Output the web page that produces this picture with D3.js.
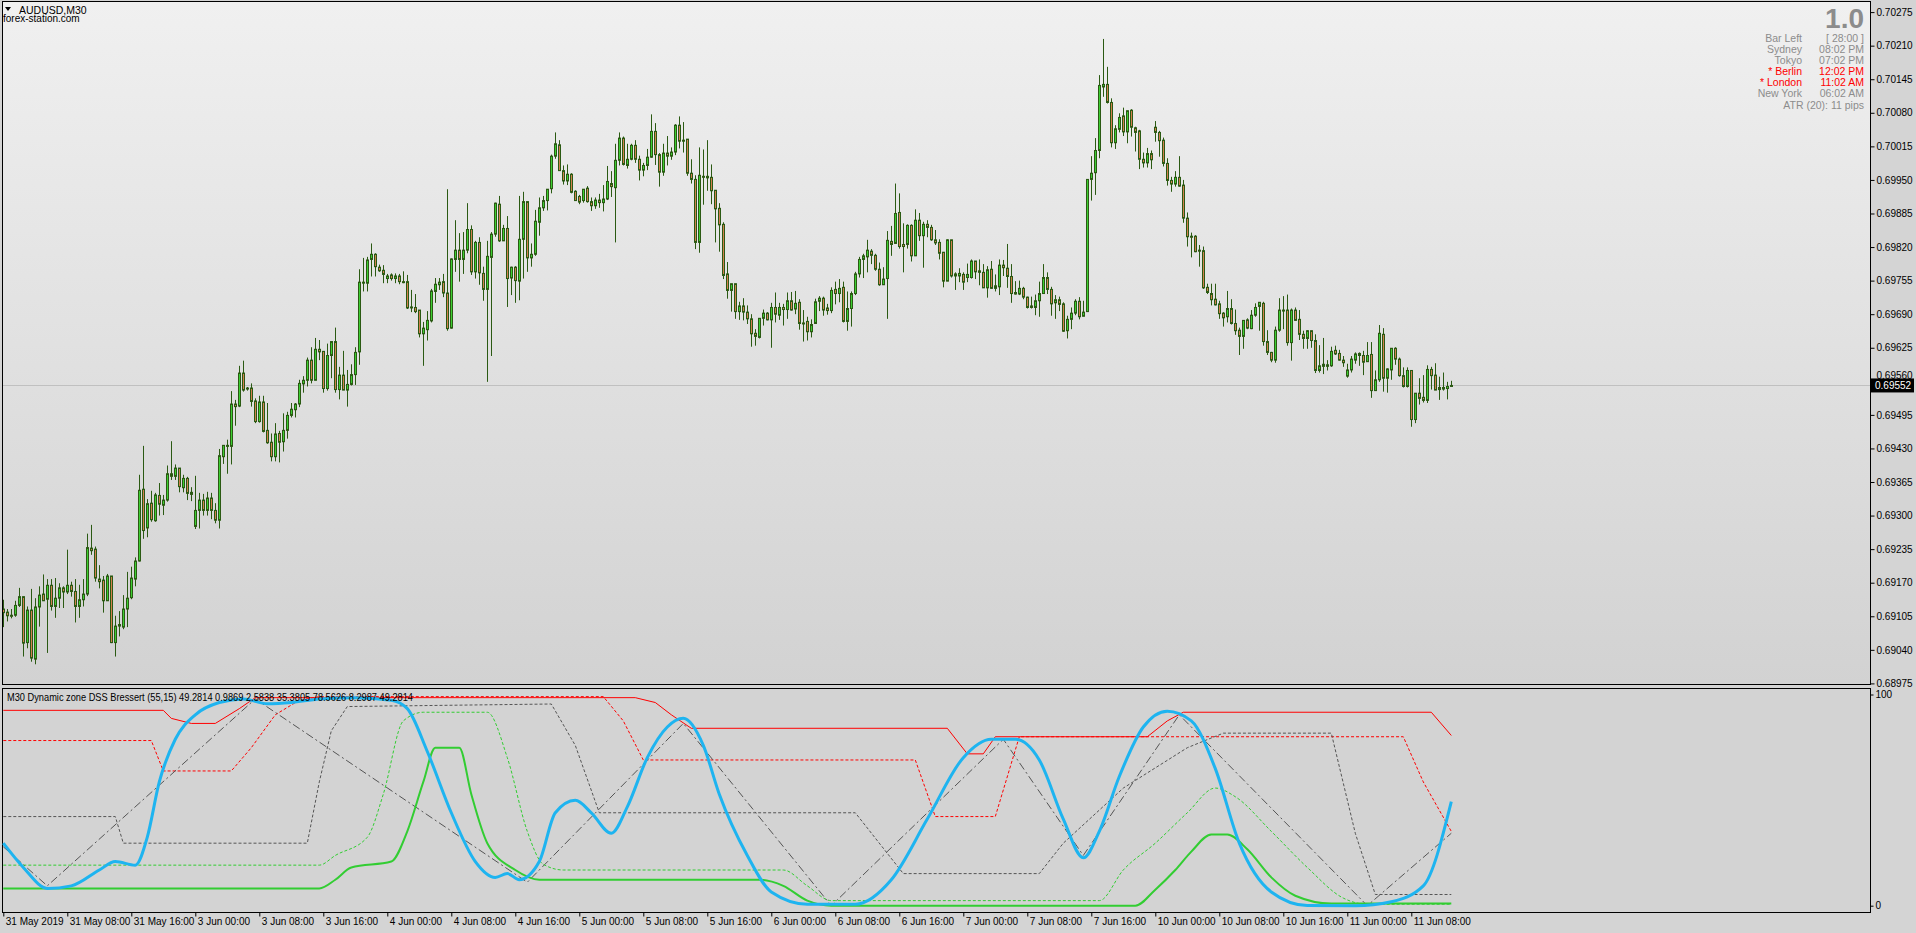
<!DOCTYPE html>
<html><head><meta charset="utf-8">
<script src="https://cdn.jsdelivr.net/npm/d3@7"></script>
<style>
html,body{margin:0;padding:0;background:#d4d4d4;overflow:hidden}
svg{display:block}
text{font-family:"Liberation Sans",Arial,sans-serif}
</style></head><body>
<svg id="c" width="1916" height="933"></svg>
<script>
// ---- price data, in points (price x 100000), M30 bars from 31 May 2019 00:00 ----
const opens = [69119,69113,69107,69107,69126,69143,69054,69117,69022,69123,
69148,69138,69165,69124,69140,69160,69152,69165,69153,69124,
69137,69148,69237,69235,69177,69175,69135,69183,69054,69086,
69084,69119,69141,69177,69212,69351,69276,69324,69290,69339,
69320,69330,69381,69376,69392,69354,69372,69345,69279,69310,
69330,69310,69334,69310,69291,69414,69434,69434,69516,69512,
69576,69547,69547,69522,69482,69520,69465,69442,69414,69459,
69443,69465,69494,69505,69516,69555,69562,69601,69562,69622,
69618,69546,69610,69637,69544,69572,69543,69554,69573,69617,
69751,69750,69796,69806,69781,69775,69759,69766,69759,69764,
69753,69753,69704,69703,69698,69652,69660,69677,69734,69747,
69753,69731,69663,69796,69814,69796,69814,69854,69772,69829,
69769,69738,69800,69845,69903,69832,69856,69760,69781,69754,
69835,69908,69799,69806,69868,69896,69910,69933,69996,70018,
69968,69948,69961,69928,69918,69910,69934,69908,69900,69911,
69906,69913,69943,69935,69988,70031,69978,69990,70017,69990,
69969,69978,69994,70044,69999,69965,70002,69996,70004,70056,
70025,70029,69963,69951,69829,69957,69957,69955,69930,69895,
69864,69768,69736,69749,69695,69706,69694,69681,69653,69645,
69682,69692,69679,69703,69688,69703,69699,69716,69700,69713,
69673,69676,69656,69672,69715,69721,69702,69697,69738,69730,
69742,69676,69701,69730,69768,69796,69801,69812,69804,69777,
69747,69759,69831,69827,69887,69825,69825,69862,69803,69872,
69842,69864,69858,69834,69829,69810,69754,69834,69764,69764,
69767,69761,69761,69793,69774,69771,69741,69777,69740,69743,
69785,69779,69763,69732,69729,69740,69723,69706,69703,69716,
69730,69761,69738,69712,69718,69710,69658,69680,69692,69715,
69686,69695,69951,69964,70007,70130,70135,70100,70022,70048,
70074,70043,70085,70051,70045,69990,69983,70001,70052,70042,
70027,69982,69949,69942,69955,69940,69876,69841,69841,69814,
69813,69742,69730,69719,69710,69692,69685,69701,69672,69659,
69647,69679,69662,69688,69705,69711,69637,69616,69601,69659,
69697,69698,69635,69698,69680,69651,69643,69658,69639,69581,
69589,69589,69590,69620,69614,69601,69570,69582,69601,69614,
69610,69598,69612,69542,69563,69651,69566,69582,69624,69603,
69571,69550,69581,69486,69537,69529,69523,69583,69572,69544,
69545,69546,69550];
const highs = [69137,69119,69119,69135,69160,69143,69124,69158,69140,69163,
69186,69177,69177,69179,69169,69163,69234,69172,69177,69166,
69177,69265,69282,69240,69204,69183,69187,69183,69106,69115,
69146,69191,69201,69219,69379,69435,69332,69348,69344,69363,
69340,69397,69444,69399,69392,69379,69375,69355,69377,69344,
69342,69346,69344,69324,69429,69436,69447,69541,69524,69590,
69600,69549,69556,69527,69532,69532,69518,69459,69479,69464,
69498,69501,69518,69518,69563,69570,69606,69626,69644,69640,
69618,69633,69637,69664,69588,69619,69582,69593,69626,69777,
69799,69801,69827,69808,69786,69785,69768,69769,69769,69768,
69773,69766,69737,69729,69698,69675,69696,69739,69760,69760,
69768,69932,69798,69872,69847,69849,69905,69862,69832,69839,
69782,69832,69849,69906,69919,69863,69880,69782,69783,69919,
69927,69908,69827,69892,69916,69919,69932,69999,70042,70027,
69978,69980,69963,69930,69921,69932,69938,69916,69916,69923,
69940,69977,69967,70020,70042,70034,70020,70020,70027,69997,
69983,70010,70077,70060,70002,70020,70035,70013,70058,70073,
70062,70029,69990,69959,70013,70009,70027,69980,69930,69905,
69868,69791,69749,69749,69714,69721,69707,69690,69661,69682,
69699,69694,69712,69732,69712,69710,69732,69733,69735,69719,
69698,69685,69680,69720,69725,69724,69710,69742,69753,69758,
69753,69734,69734,69772,69801,69807,69834,69816,69807,69790,
69781,69851,69861,69943,69924,69866,69864,69864,69893,69886,
69869,69872,69863,69853,69835,69810,69835,69834,69771,69779,
69771,69788,69796,69793,69796,69787,69783,69793,69767,69796,
69795,69826,69787,69754,69755,69743,69724,69724,69728,69753,
69787,69771,69743,69727,69724,69713,69687,69703,69719,69723,
69716,69951,69996,70031,70153,70223,70169,70108,70056,70079,
70090,70084,70087,70053,70047,70003,70012,70007,70064,70045,
70032,69992,69956,69967,69996,69950,69887,69848,69843,69824,
69821,69749,69749,69749,69716,69694,69735,69719,69699,69664,
69678,69682,69698,69711,69713,69714,69659,69617,69666,69721,
69725,69728,69701,69703,69698,69658,69659,69658,69651,69630,
69644,69601,69627,69629,69621,69609,69594,69609,69616,69616,
69619,69636,69636,69581,69669,69663,69585,69624,69626,69606,
69587,69587,69581,69537,69566,69572,69591,69588,69595,69569,
69577,69559,69561];
const lows = [69084,69095,69101,69104,69123,69027,69043,69017,69012,69085,
69135,69034,69116,69102,69121,69121,69148,69143,69093,69102,
69124,69144,69224,69172,69159,69112,69135,69053,69027,69066,
69080,69084,69138,69163,69211,69255,69258,69288,69288,69300,
69301,69327,69369,69369,69345,69345,69330,69328,69274,69275,
69300,69300,69293,69285,69275,69400,69381,69399,69474,69510,
69540,69542,69511,69479,69480,69461,69439,69405,69405,69403,
69424,69449,69490,69490,69510,69538,69550,69556,69562,69601,
69538,69542,69566,69538,69525,69543,69511,69552,69553,69592,
69734,69734,69763,69763,69772,69750,69750,69755,69750,69748,
69750,69700,69694,69692,69645,69590,69639,69674,69712,69737,
69723,69658,69662,69772,69753,69768,69808,69766,69759,69747,
69716,69559,69609,69840,69830,69832,69704,69727,69712,69717,
69759,69772,69782,69803,69842,69890,69891,69924,69991,69968,
69941,69940,69924,69910,69903,69906,69906,69890,69894,69896,
69889,69911,69917,69829,69978,69978,69972,69988,69983,69949,
69957,69969,69993,69979,69937,69958,69978,69989,69998,70011,
70003,69958,69943,69816,69809,69902,69929,69903,69829,69811,
69758,69720,69695,69681,69679,69678,69671,69627,69629,69643,
69668,69678,69625,69674,69679,69668,69681,69697,69690,69660,
69637,69639,69645,69672,69696,69687,69689,69692,69709,69713,
69674,69658,69666,69727,69761,69760,69771,69787,69774,69745,
69747,69681,69803,69827,69817,69771,69817,69792,69803,69832,
69780,69839,69832,69824,69796,69742,69754,69761,69737,69752,
69737,69752,69759,69758,69746,69741,69722,69739,69734,69727,
69764,69741,69712,69728,69727,69719,69701,69701,69688,69685,
69730,69729,69687,69681,69696,69656,69643,69661,69688,69680,
69686,69695,69910,69921,69992,70111,70098,70013,70010,70042,
70035,70021,70034,70005,69971,69974,69974,69971,70024,69995,
69976,69939,69927,69937,69937,69867,69821,69800,69810,69782,
69739,69729,69707,69707,69681,69666,69674,69670,69650,69611,
69623,69661,69661,69685,69658,69629,69611,69597,69596,69656,
69661,69629,69600,69677,69640,69623,69623,69625,69576,69577,
69574,69581,69588,69611,69600,69588,69567,69577,69594,69590,
69572,69598,69528,69542,69559,69540,69538,69563,69592,69569,
69548,69548,69472,69479,69515,69519,69518,69544,69543,69524,
69542,69525,69550];
const closes = [69112,69106,69105,69126,69143,69053,69117,69024,69123,69146,
69135,69165,69124,69140,69160,69152,69165,69153,69124,69137,
69148,69238,69232,69179,69172,69135,69183,69054,69086,69089,
69119,69140,69179,69212,69349,69271,69323,69292,69340,69322,
69330,69381,69376,69392,69356,69372,69343,69341,69310,69330,
69310,69334,69310,69291,69416,69436,69436,69516,69511,69576,
69543,69545,69521,69482,69520,69463,69441,69414,69458,69442,
69465,69494,69506,69516,69556,69562,69601,69562,69622,69617,
69546,69610,69637,69544,69572,69543,69554,69573,69616,69752,
69752,69795,69806,69782,69774,69767,69764,69759,69764,69753,
69752,69702,69703,69695,69652,69663,69678,69735,69748,69752,
69731,69662,69797,69814,69796,69814,69854,69772,69829,69770,
69738,69802,69845,69905,69832,69856,69759,69781,69755,69835,
69908,69799,69806,69870,69896,69910,69932,69996,70020,69968,
69948,69961,69926,69910,69907,69932,69908,69900,69911,69906,
69913,69947,69937,69988,70031,69980,69990,70017,69990,69969,
69978,69994,70044,69999,69965,70002,69996,70004,70056,70025,
70027,69963,69951,69829,69959,69956,69954,69929,69894,69863,
69765,69736,69749,69695,69706,69694,69681,69652,69647,69682,
69692,69679,69703,69690,69703,69699,69716,69698,69711,69672,
69672,69656,69670,69714,69721,69698,69697,69736,69730,69740,
69676,69701,69730,69768,69796,69803,69814,69804,69777,69747,
69758,69833,69825,69885,69821,69821,69862,69803,69872,69842,
69864,69858,69834,69828,69808,69754,69834,69764,69768,69769,
69752,69767,69793,69772,69771,69741,69776,69740,69745,69785,
69780,69763,69730,69729,69740,69723,69703,69703,69716,69730,
69761,69738,69710,69718,69709,69657,69680,69692,69715,69685,
69694,69951,69963,70007,70133,70135,70100,70022,70049,70071,
70043,70084,70052,70042,69990,69983,70001,69989,70042,70026,
69982,69949,69942,69955,69938,69876,69840,69839,69811,69812,
69741,69732,69718,69708,69691,69683,69701,69672,69658,69647,
69678,69663,69688,69703,69713,69637,69616,69601,69659,69698,
69698,69635,69698,69678,69651,69643,69658,69639,69581,69590,
69593,69592,69618,69613,69601,69596,69582,69603,69613,69610,
69597,69610,69542,69563,69653,69566,69584,69624,69603,69571,
69550,69581,69486,69537,69527,69523,69583,69571,69543,69548,
69548,69550,69552];
const currentPrice = 69552;

// ---- axis labels ----
const priceTicks = [68975,69040,69105,69170,69235,69300,69365,69430,69495,69560,69625,69690,69755,69820,69885,69950,70015,70080,70145,70210,70275];
const timeTickBars = [0,16,32,48,64,80,96,112,128,144,160,176,192,208,224,240,256,272,288,304,320,336,352];
const timeTickLabels = ["31 May 2019","31 May 08:00","31 May 16:00","3 Jun 00:00","3 Jun 08:00","3 Jun 16:00","4 Jun 00:00","4 Jun 08:00","4 Jun 16:00","5 Jun 00:00","5 Jun 08:00","5 Jun 16:00","6 Jun 00:00","6 Jun 08:00","6 Jun 16:00","7 Jun 00:00","7 Jun 08:00","7 Jun 16:00","10 Jun 00:00","10 Jun 08:00","10 Jun 16:00","11 Jun 00:00","11 Jun 08:00"];
const indTicks = [0,100];

// ---- indicator: Dynamic zone DSS Bressert (bar index / value pairs) ----
const dssIdx = [0,5,11,17,24,28,33,36,39,43,48,54,60,66,72,79,88,97,101,106,112,118,123,126,129,134,138,143,147,152,156,161,166,170,175,179,186,192,201,213,222,231,240,247,253,259,265,270,274,279,285,291,297,303,309,317,326,338,347,355,362];
const dssVal = [29.6,18.1,8.2,9.4,16.9,20.9,19.2,32.5,58.6,78.8,90.4,96.2,97.9,95.6,96.2,97.9,98.5,97.3,93.3,73,44,20.9,13.4,15.2,12.3,20.9,44,49.9,44,34.3,46.8,70.1,84.6,88.7,75.9,52.8,23.8,6.5,0.7,0.7,12.3,41,70.1,78.8,78.8,69,41,22.7,35.2,61.2,84.6,92.1,87.5,64.9,29.6,6.5,0.1,0,1.9,9.4,49.3];
const upperIdx = [0,40,42,47,53,59,63,158,163,167,172,236,241,245,248,286,291,295,357,362];
const upperVal = [92.5,92.5,88.7,86.3,86.3,93.3,98.5,98.5,96.2,90.4,84,84,71.9,71.9,80,80,87.5,91.6,91.6,80.6];
const upper2Idx = [0,37,40,57,62,68,74,79,150,155,160,228,233,248,254,350,355,362];
const upper2Val = [78.2,78.2,63.8,63.8,74.8,90.4,97.3,99,99,87.5,69,69,42.2,42.2,80,80,58.6,35.2];
const grayIdx = [0,28,30,76,79,82,86,137,143,149,213,225,259,265,280,296,305,332,338,343,362];
const grayVal = [42.2,42.2,29.6,29.6,58.6,82.8,94.3,95.5,75.9,44,44,15.2,15.2,29.6,55.7,74.8,81.7,81.7,34.3,5.3,5.3];
const dashDotIdx = [0,11,63,131,170,207,250,270,294,341,362];
const dashDotVal = [27.9,9.4,97.9,11.1,86.3,0,78.8,23.8,90.4,0,34.3];
const lower2Idx = [0,79,83,91,95,100,105,121,126,131,135,140,195,201,207,274,280,288,296,303,308,317,326,335,341,362];
const lower2Val = [19.2,19.2,23.8,32.4,52.8,87.5,91.6,91.6,70.1,35.2,19.6,16.9,16.9,9.4,2.4,2.4,16.9,29.6,44,55.7,51.6,35.2,18.1,3.6,0.7,0.7];
const lowerIdx = [0,79,83,87,97,101,105,108,114,117,121,128,134,189,195,201,207,283,288,293,297,302,306,311,317,323,332,362];
const lowerVal = [8.2,8.2,12.3,18.1,20.9,35.2,58.6,74.8,74.8,52.8,29.6,16.9,12.3,12.3,9.4,2.4,0,0,7.6,16.9,25.6,33.7,33.7,26.7,13.4,4.7,1,1];

// ---- info panel ----
const infoLabels = ["Bar Left","Sydney","Tokyo","* Berlin","* London","New York"];
const infoValues = ["[ 28:00 ]","08:02 PM","07:02 PM","12:02 PM","11:02 AM","06:02 AM"];
const infoRed = [false,false,false,true,true,false];

// ================= drawing =================
const svg = d3.select('#c');
const L = 2, R = 1870, T = 2, B = 685, IT = 688, IB = 912;

const defs = svg.append('defs');
const grad = defs.append('linearGradient').attr('id','bg').attr('x1',0).attr('x2',0).attr('y1',0).attr('y2',1);
grad.append('stop').attr('offset','0%').attr('stop-color','#f0f0f0');
grad.append('stop').attr('offset','100%').attr('stop-color','#d2d2d2');
defs.append('clipPath').attr('id','mainClip').append('rect').attr('x',L).attr('y',T).attr('width',R-L).attr('height',B-T);
defs.append('clipPath').attr('id','indClip').append('rect').attr('x',L).attr('y',IT).attr('width',R-L).attr('height',IB-IT);

svg.append('rect').attr('width',1916).attr('height',933).attr('fill','#d4d4d4');
svg.append('rect').attr('x',L).attr('y',T).attr('width',R-L).attr('height',B-T).attr('fill','url(#bg)');
svg.append('rect').attr('x',L).attr('y',IT).attr('width',R-L).attr('height',IB-IT).attr('fill','#d3d3d3');

const x = d3.scaleLinear().domain([0,362]).range([3.3,1451.3]);
const yP = d3.scaleLinear().domain([68975,70275]).range([683.4,12.1]);
const yI = d3.scaleLinear().domain([0,100]).range([905.7,694.5]);

// current price line
const main = svg.append('g').attr('clip-path','url(#mainClip)');
main.append('line').attr('x1',L).attr('x2',R).attr('y1',Math.round(yP(currentPrice))+0.5).attr('y2',Math.round(yP(currentPrice))+0.5)
  .attr('stroke','#c0c0c0').attr('stroke-width',1);

// candles
const bars = d3.range(opens.length);
const cg = main.append('g');
cg.selectAll('line.w').data(bars).join('line')
  .attr('x1',i=>Math.round(x(i))+0.5).attr('x2',i=>Math.round(x(i))+0.5)
  .attr('y1',i=>yP(highs[i])).attr('y2',i=>yP(lows[i]))
  .attr('stroke','#2b5a13').attr('stroke-width',1);
cg.selectAll('rect.b').data(bars).join('rect')
  .attr('x',i=>Math.round(x(i))-0.5)
  .attr('y',i=>yP(Math.max(opens[i],closes[i])))
  .attr('width',2)
  .attr('height',i=>Math.max(1,Math.abs(yP(opens[i])-yP(closes[i]))))
  .attr('fill',i=>closes[i]>=opens[i]?'#3ccf32':'#d2804e')
  .attr('stroke','#2b5a13').attr('stroke-width',1);

// frames
svg.append('rect').attr('x',L+0.5).attr('y',T-0.5).attr('width',R-L).attr('height',B-T).attr('fill','none').attr('stroke','#000');
svg.append('rect').attr('x',L+0.5).attr('y',IT+0.5).attr('width',R-L).attr('height',IB-IT).attr('fill','none').attr('stroke','#000');

// price axis (the label hidden by the current-price box is left out of the axis)
const cpy = yP(currentPrice);
const pAxis = d3.axisRight(yP).tickValues(priceTicks).tickSize(4).tickPadding(2).tickFormat(v=>(v/100000).toFixed(5));
const pg = svg.append('g').attr('transform',`translate(${R+0.5},0)`).call(pAxis);
pg.select('.domain').remove();
pg.selectAll('line').attr('stroke','#000');
pg.selectAll('text').attr('font-size','10px').attr('fill','#000').attr('font-family','"Liberation Sans",Arial,sans-serif');
// tick label covered by the price box: show only its upper part like the original
pg.selectAll('.tick').filter(d=>Math.abs(yP(d)-cpy)<8).select('text').attr('dy','-0.25em');

// current price box
svg.append('rect').attr('x',R+1).attr('y',cpy-7).attr('width',43).attr('height',14).attr('fill','#000');
svg.append('text').attr('x',R+5).attr('y',cpy+3.6).attr('font-size','10px').attr('fill','#fff').text((currentPrice/100000).toFixed(5));

// indicator axis
const iAxis = d3.axisRight(yI).tickValues(indTicks).tickSize(3).tickPadding(2).tickFormat(d=>String(d));
const ig = svg.append('g').attr('transform',`translate(${R+0.5},0)`).call(iAxis);
ig.select('.domain').remove();
ig.selectAll('line').attr('stroke','#000');
ig.selectAll('text').attr('font-size','10px').attr('fill','#000').attr('font-family','"Liberation Sans",Arial,sans-serif');

// time axis
const tAxis = d3.axisBottom(x).tickValues(timeTickBars).tickSize(4).tickFormat((d,i)=>timeTickLabels[i]);
const tg = svg.append('g').attr('transform',`translate(0,${IB+0.5})`).call(tAxis);
tg.select('.domain').remove();
tg.selectAll('line').attr('stroke','#000');
tg.selectAll('text').attr('text-anchor','start').attr('dx','2px').attr('y',5).attr('dy','0.75em')
  .attr('font-size','10px').attr('fill','#000').attr('font-family','"Liberation Sans",Arial,sans-serif');

// indicator lines
const ind = svg.append('g').attr('clip-path','url(#indClip)');
function series(idx,val,curve){
  return d3.line().x(d=>x(d[0])).y(d=>yI(d[1])).curve(curve)(idx.map((v,k)=>[v,val[k]]));
}
ind.append('path').attr('d',series(upperIdx,upperVal,d3.curveLinear)).attr('fill','none').attr('stroke','#ff0000').attr('stroke-width',1);
ind.append('path').attr('d',series(upper2Idx,upper2Val,d3.curveLinear)).attr('fill','none').attr('stroke','#ff0000').attr('stroke-width',1).attr('stroke-dasharray','3,2');
ind.append('path').attr('d',series(grayIdx,grayVal,d3.curveLinear)).attr('fill','none').attr('stroke','#555').attr('stroke-width',1).attr('stroke-dasharray','3,2');
ind.append('path').attr('d',series(dashDotIdx,dashDotVal,d3.curveLinear)).attr('fill','none').attr('stroke','#555').attr('stroke-width',1).attr('stroke-dasharray','8,3,2,3');
ind.append('path').attr('d',series(lower2Idx,lower2Val,d3.curveMonotoneX)).attr('fill','none').attr('stroke','#32cd32').attr('stroke-width',1).attr('stroke-dasharray','3,2');
ind.append('path').attr('d',series(lowerIdx,lowerVal,d3.curveMonotoneX)).attr('fill','none').attr('stroke','#32cd32').attr('stroke-width',2);
ind.append('path').attr('d',series(dssIdx,dssVal,d3.curveMonotoneX)).attr('fill','none').attr('stroke','#1eb4f0').attr('stroke-width',3);

// indicator label
svg.append('text').attr('x',7).attr('y',701).attr('font-size','10.5px').attr('fill','#000')
  .attr('textLength',406).attr('lengthAdjust','spacingAndGlyphs')
  .text('M30 Dynamic zone DSS Bressert (55,15) 49.2814 0.9869 2.5838 35.3805 78.5626 8.2987 49.2814');

// top-left title
svg.append('path').attr('d','M5,7 L11,7 L8,11 Z').attr('fill','#000');
svg.append('text').attr('x',19).attr('y',14).attr('font-size','10.5px').attr('fill','#000').text('AUDUSD,M30');
svg.append('text').attr('x',3).attr('y',22).attr('font-size','10px').attr('fill','#000').text('forex-station.com');

// info panel
svg.append('text').attr('x',1864).attr('y',28).attr('text-anchor','end').attr('font-size','28px').attr('font-weight','bold').attr('fill','#8c8c8c').text('1.0');
const rowY = [42,53,64,75,86,96.5];
infoLabels.forEach((t,k)=>{
  const col = infoRed[k] ? '#ff0000' : '#8c8c8c';
  svg.append('text').attr('x',1802).attr('y',rowY[k]).attr('text-anchor','end').attr('font-size','10.5px').attr('fill',col).text(t);
  svg.append('text').attr('x',1864).attr('y',rowY[k]).attr('text-anchor','end').attr('font-size','10.5px').attr('fill',col).text(infoValues[k]);
});
svg.append('text').attr('x',1864).attr('y',108.5).attr('text-anchor','end').attr('font-size','10.5px').attr('fill','#8c8c8c').text('ATR (20): 11 pips');
</script>
</body></html>
